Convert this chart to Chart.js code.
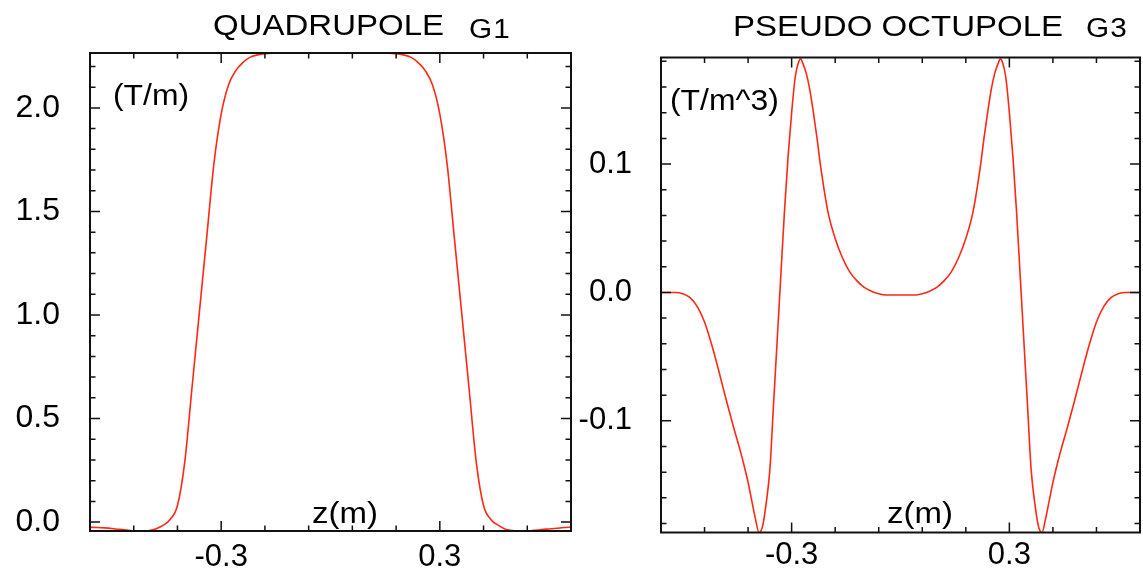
<!DOCTYPE html>
<html>
<head>
<meta charset="utf-8">
<script src="https://cdn.jsdelivr.net/npm/chart.js@4/dist/chart.umd.min.js"></script>
<style>
  body { margin: 0; width: 1143px; height: 577px; position: relative; background: #fff; overflow: hidden; }
  canvas { position: absolute; top: 0; }
  .t { position: absolute; font-family: 'Liberation Sans', Arial, sans-serif; line-height: 1; white-space: nowrap;
       color: #000; transform: scaleX(1.1); transform-origin: 0 0; }
</style>
</head>
<body>
<canvas id="g1Chart" width="575" height="577" style="left:0"></canvas>
<canvas id="g3Chart" width="568" height="577" style="left:575px"></canvas>

<div class="t" style="left:213px;top:10px;font-size:30px">QUADRUPOLE</div>
<div class="t" style="left:469px;top:16px;font-size:27px;letter-spacing:1px">G1</div>
<div class="t" style="left:733px;top:11px;font-size:30px">PSEUDO OCTUPOLE</div>
<div class="t" style="left:1086px;top:15px;font-size:27px;letter-spacing:1px">G3</div>
<div class="t" style="left:113px;top:81px;font-size:29px">(T/m)</div>
<div class="t" style="left:670px;top:86px;font-size:29px">(T/m^3)</div>
<div class="t" style="left:312px;top:498px;font-size:30px">z(m)</div>
<div class="t" style="left:887px;top:498px;font-size:30px">z(m)</div>

<script>
// quadrupole gradient G1 (T/m) along z (m)
const zG1 = [-0.66, -0.64, -0.62, -0.60, -0.58, -0.56, -0.54, -0.52, -0.50, -0.48, -0.46, -0.44, -0.42,
  -0.40, -0.38, -0.36, -0.34, -0.32, -0.30, -0.28, -0.26, -0.24, -0.22, -0.20, -0.18, -0.16, -0.12,
  -0.08, -0.04, 0, 0.04, 0.08, 0.12, 0.16, 0.18, 0.20, 0.22, 0.24, 0.26, 0.28, 0.30, 0.32, 0.34,
  0.36, 0.38, 0.40, 0.42, 0.44, 0.46, 0.48, 0.50, 0.52, 0.54, 0.56, 0.58, 0.60, 0.62, 0.64, 0.66];
const g1 = [-0.025, -0.026, -0.028, -0.031, -0.035, -0.038, -0.044, -0.048, -0.042, -0.033, -0.016, 0.013, 0.08,
  0.29, 0.65, 1.01, 1.37, 1.73, 1.97, 2.11, 2.18, 2.22, 2.245, 2.256, 2.262, 2.264, 2.264,
  2.264, 2.264, 2.264, 2.264, 2.264, 2.264, 2.264, 2.262, 2.256, 2.245, 2.22, 2.18, 2.11, 1.97, 1.73, 1.37,
  1.01, 0.65, 0.29, 0.08, 0.013, -0.015, -0.034, -0.041, -0.048, -0.045, -0.040, -0.036, -0.033, -0.030, -0.026, -0.024];

// pseudo octupole G3 (T/m^3) along z (m)
const zG3 = [-0.66, -0.64, -0.62, -0.60, -0.58, -0.56, -0.54, -0.52, -0.50, -0.48, -0.46, -0.44, -0.43,
  -0.42, -0.41, -0.40, -0.39, -0.38, -0.37, -0.36, -0.35, -0.34, -0.33, -0.32, -0.31, -0.30, -0.29, -0.28,
  -0.275, -0.27, -0.26, -0.25, -0.24, -0.23, -0.22, -0.20, -0.18, -0.16, -0.14, -0.12, -0.10, -0.08,
  -0.06, -0.04, -0.02, 0, 0.02, 0.04, 0.06, 0.08, 0.10, 0.12, 0.14, 0.16, 0.18, 0.20, 0.22, 0.23,
  0.24, 0.25, 0.26, 0.27, 0.275, 0.28, 0.29, 0.30, 0.31, 0.32, 0.33, 0.34, 0.35, 0.36, 0.37, 0.38,
  0.39, 0.40, 0.41, 0.42, 0.43, 0.44, 0.46, 0.48, 0.50, 0.52, 0.54, 0.56, 0.58, 0.60, 0.62, 0.64, 0.66];
const g3 = [0, 0, 0, -0.001, -0.004, -0.011, -0.023, -0.041, -0.062, -0.084, -0.105, -0.125, -0.136,
  -0.148, -0.162, -0.176, -0.187, -0.182, -0.164, -0.138, -0.088, -0.038, 0.012, 0.062, 0.105, 0.140, 0.168, 0.180,
  0.182, 0.179, 0.171, 0.158, 0.140, 0.120, 0.098, 0.063, 0.042, 0.027, 0.016, 0.009, 0.004, 0.001,
  -0.001, -0.002, -0.002, -0.002, -0.002, -0.002, -0.001, 0.001, 0.004, 0.009, 0.016, 0.027, 0.042, 0.063, 0.098, 0.120,
  0.140, 0.158, 0.171, 0.179, 0.182, 0.180, 0.168, 0.140, 0.105, 0.062, 0.012, -0.038, -0.088, -0.138, -0.164, -0.182,
  -0.187, -0.176, -0.162, -0.148, -0.136, -0.125, -0.105, -0.084, -0.062, -0.041, -0.023, -0.011, -0.004, -0.001, 0, 0, 0];

// labelled ticks
const zTicks = [-0.3, 0.3];
const g1Ticks = [0, 0.5, 1.0, 1.5, 2.0];
const g3Ticks = [-0.1, 0, 0.1];

const FONT = "'Liberation Sans', Arial, sans-serif";
const RED = 'rgb(255, 40, 20)';

function steps(from, to, step) {
    const out = [];
    for (let v = from; v <= to + 1e-9; v += step) out.push(Math.round(v * 1000) / 1000);
    return out;
}

// frame with inward tick marks on all four sides
const frameTicks = {
    id: 'frameTicks',
    afterDatasetsDraw(chart, args, opts) {
        const { ctx, chartArea: a, scales: { x, y } } = chart;
        const isMajor = (list, v) => list.some(m => Math.abs(m - v) < 1e-6);
        ctx.save();
        ctx.strokeStyle = '#111';
        ctx.lineWidth = 1.5;
        ctx.beginPath();
        opts.xMinor.forEach(v => {
            const px = x.getPixelForValue(v);
            const len = isMajor(opts.xMajor, v) ? 10 : 5.5;
            ctx.moveTo(px, a.bottom); ctx.lineTo(px, a.bottom - len);
            ctx.moveTo(px, a.top); ctx.lineTo(px, a.top + len);
        });
        opts.yMinor.forEach(v => {
            const py = y.getPixelForValue(v);
            const len = isMajor(opts.yMajor, v) ? 10 : 5.5;
            ctx.moveTo(a.left, py); ctx.lineTo(a.left + len, py);
            ctx.moveTo(a.right, py); ctx.lineTo(a.right - len, py);
        });
        ctx.stroke();
        ctx.lineWidth = 2;
        ctx.strokeRect(a.left, a.top, a.right - a.left, a.bottom - a.top);
        ctx.restore();
    }
};

function makeChart(canvas, zs, vals, cfg) {
    return new Chart(canvas, {
        type: 'line',
        data: {
            datasets: [{
                data: zs.map((z, i) => ({ x: z, y: vals[i] })),
                borderColor: RED,
                borderWidth: 1.6,
                pointRadius: 0,
                cubicInterpolationMode: 'monotone',
                fill: false
            }]
        },
        plugins: [frameTicks],
        options: {
            responsive: false,
            animation: false,
            devicePixelRatio: 1,
            layout: { padding: cfg.padding },
            plugins: {
                legend: { display: false },
                tooltip: { enabled: false },
                frameTicks: {
                    xMinor: steps(-0.66, 0.66, 0.12), xMajor: zTicks,
                    yMinor: cfg.yMinor, yMajor: cfg.yTicks
                }
            },
            scales: {
                x: {
                    type: 'linear', min: -0.66, max: 0.66,
                    grid: { display: false, drawTicks: false },
                    border: { display: false },
                    afterBuildTicks: s => { s.ticks = zTicks.map(v => ({ value: v })); },
                    afterFit: s => { s.height = cfg.xHeight; },
                    ticks: {
                        padding: cfg.xPad, color: '#000', maxRotation: 0,
                        font: { family: FONT, size: 31, lineHeight: 1 },
                        callback: v => v.toFixed(1)
                    }
                },
                y: {
                    min: cfg.yMin, max: cfg.yMax,
                    grid: { display: false, drawTicks: false },
                    border: { display: false },
                    afterBuildTicks: s => { s.ticks = cfg.yTicks.map(v => ({ value: v })); },
                    afterFit: s => { s.width = cfg.yWidth; },
                    ticks: {
                        padding: cfg.yPad, color: '#000',
                        font: { family: FONT, size: cfg.yFont, lineHeight: 1 },
                        callback: v => v.toFixed(1)
                    }
                }
            }
        }
    });
}

document.addEventListener('DOMContentLoaded', () => {
    makeChart(document.getElementById('g1Chart'), zG1, g1, {
        padding: { left: 0, top: 53, right: 4, bottom: 0 },
        yMin: -0.043, yMax: 2.265, yTicks: g1Ticks, yMinor: steps(0, 2.2, 0.1),
        xHeight: 45, yWidth: 90, xPad: 11, yPad: 30, yFont: 32
    });
    makeChart(document.getElementById('g3Chart'), zG3, g3, {
        padding: { left: 0, top: 57.5, right: 3, bottom: 0 },
        yMin: -0.187, yMax: 0.183, yTicks: g3Ticks, yMinor: steps(-0.18, 0.18, 0.02),
        xHeight: 37.7, yWidth: 86, xPad: 7, yPad: 29, yFont: 31
    });
});
</script>
</body>
</html>
